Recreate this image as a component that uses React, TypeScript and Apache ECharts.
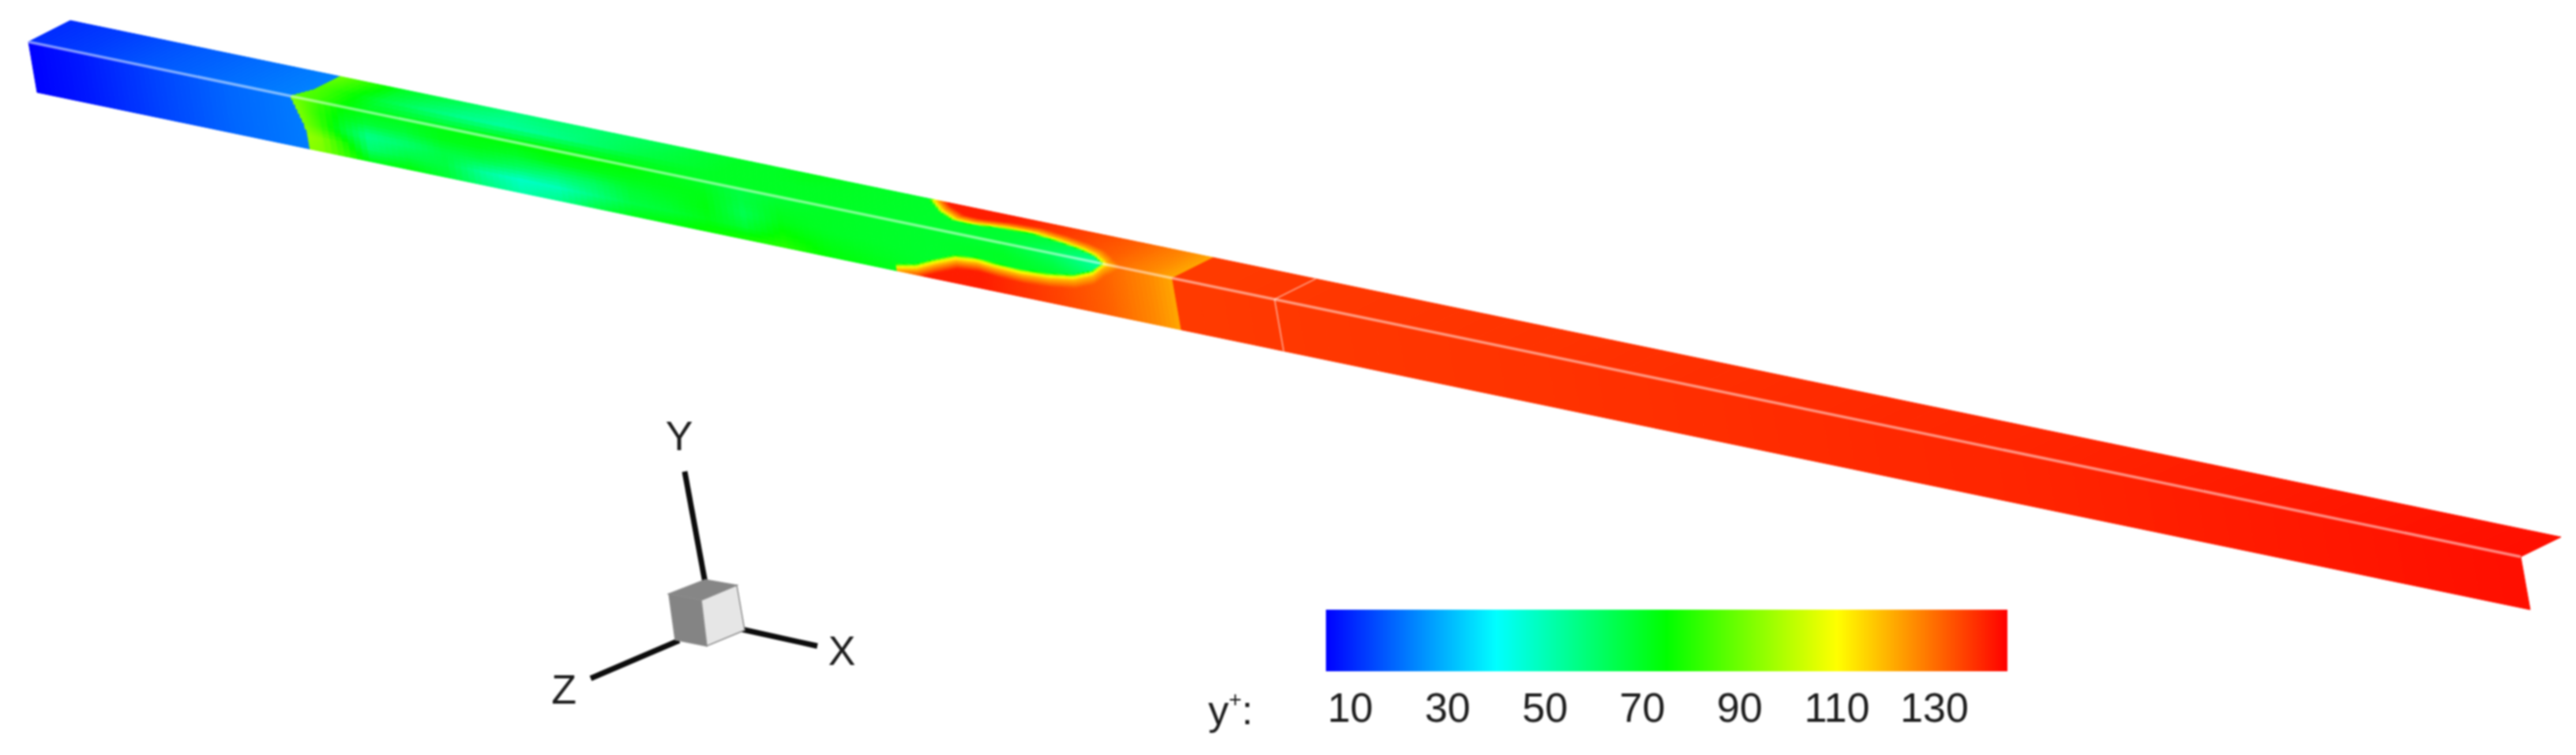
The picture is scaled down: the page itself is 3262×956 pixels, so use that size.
import React, { useEffect, useRef } from "react";
import * as echarts from "echarts";

// Colour scale of the contour plot (y+ level, colour)
const scaleLevels = [5, 40, 75, 110, 145];
const scaleColors = ["#0000ff", "#00ffff", "#00ff00", "#ffff00", "#ff0000"];
const scaleTicks = [10, 30, 50, 70, 90, 110, 130];

// y+. Positions along the duct (0..1) and across a face (0..1).
const sideRows = [0, 0.25, 0.5, 0.75, 1];
const topRows = [0, 0.5, 1];
const greenStations = [0.105, 0.115, 0.125, 0.135, 0.15, 0.165, 0.18, 0.195, 0.21, 0.225, 0.24, 0.255, 0.27, 0.285, 0.3, 0.32, 0.36, 0.39, 0.41, 0.43];
const greenSide = [
  [92, 95, 96, 97, 95], [84, 82, 84, 93, 92], [76, 72, 68, 78, 82], [73, 68, 56, 60, 72], [72, 68, 60, 66, 74],
  [73, 72, 66, 66, 68], [74, 72, 66, 54, 58], [75, 70, 62, 48, 52], [76, 72, 60, 50, 56], [76, 72, 62, 58, 66],
  [75, 72, 68, 66, 72], [72, 72, 70, 68, 74], [70, 72, 73, 72, 76], [66, 66, 64, 68, 78], [68, 70, 72, 76, 80],
  [70, 70, 70, 72, 74], [69, 69, 69, 69, 70], [68, 70, 70, 70, 70], [62, 66, 70, 70, 70], [52, 58, 66, 70, 70],
];
const greenTop = [
  [88, 88, 92], [84, 82, 85], [76, 74, 78], [72, 66, 70], [72, 60, 66], [72, 56, 62], [74, 54, 58], [75, 55, 60],
  [76, 58, 60], [75, 62, 62], [74, 66, 64], [72, 68, 68], [70, 70, 70], [70, 70, 70], [70, 70, 72], [70, 70, 70],
  [69, 69, 69], [68, 68, 68], [62, 66, 68], [52, 62, 68],
];

// Blue inlet part
const inletStations = [0, 0.02, 0.05, 0.08, 0.11];
const inletSide = [5, 8, 14, 19, 22];
const inletTop = [11, 13, 17, 20, 23];
// Blue / green interface
const inletFrontSideRows = [0, 0.25, 0.46, 0.71, 1];
const inletFrontSide = [0.1049, 0.1068, 0.1084, 0.1095, 0.1095];
const inletFrontTopRows = [0, 0.4, 1];
const inletFrontTop = [0.1049, 0.1085, 0.1085];

// The green finger: its edge across each face at a station
const fingerSideS = [0.3448, 0.3455, 0.3534, 0.3612, 0.3703, 0.379, 0.3862, 0.3966, 0.4075, 0.418, 0.4262, 0.4312, 0.435, 0.44, 0.445];
const fingerSide = [1.05, 0.9, 0.82, 0.65, 0.478, 0.437, 0.47, 0.49, 0.458, 0.38, 0.22, 0.015, -0.1, -0.3, -0.5];
const fingerTopS = [0.3452, 0.3468, 0.3555, 0.3642, 0.3709, 0.382, 0.3943, 0.4063, 0.4166, 0.4241, 0.4304, 0.4315, 0.435, 0.44, 0.445];
const fingerTop = [1.05, 0.97, 0.66, 0.46, 0.44, 0.53, 0.56, 0.47, 0.36, 0.24, 0.05, 0, -0.1, -0.3, -0.5];
const edgeDistance = [0, 0.03, 0.08];
const edgeLevel = [100, 110, 120];
const edgeEnd = 0.24;

// Red parts
const redStations = [0.346, 0.38, 0.41, 0.43, 0.44, 0.45, 0.459];
const redLevels = [141, 141, 136, 132, 129, 126, 122];
const outletStations = [0.459, 0.6, 0.8, 1];
const outletLevels = [137, 138, 140, 143];
const stepStation = 0.459;
const jointStation = 0.5;

// Oblique view of the duct, in page units
const ridgeA = [36, 53], ridgeB = [3192, 705];
const lowA = [47, 117], lowB = [3204, 772];
const highA = [89, 26], highB = [3243, 680];

const lerp1 = (xs: number[], ys: number[], x: number) => {
  if (x <= xs[0]) return ys[0];
  for (let i = 1; i < xs.length; i++) {
    if (x <= xs[i]) return ys[i - 1] + ((ys[i] - ys[i - 1]) * (x - xs[i - 1])) / (xs[i] - xs[i - 1]);
  }
  return ys[ys.length - 1];
};

const hexRgb = (h: string) => [1, 3, 5].map((i) => parseInt(h.slice(i, i + 2), 16));
const scaleRgb = scaleColors.map(hexRgb);
const colorOf = (v: number) => {
  const c = [0, 1, 2].map((k) => Math.round(lerp1(scaleLevels, scaleRgb.map((r) => r[k]), v)));
  return `rgb(${c[0]},${c[1]},${c[2]})`;
};

const tableAt = (stations: number[], rows: number[], table: number[][], s: number, a: number) => {
  const atRows = table.map((col) => lerp1(rows, col, a));
  return lerp1(stations, atRows, s);
};

const fieldAt = (face: number, s: number, a: number) => {
  const inletEdge = face === 0 ? lerp1(inletFrontSideRows, inletFrontSide, a) : lerp1(inletFrontTopRows, inletFrontTop, a);
  if (s < inletEdge) return lerp1(inletStations, face === 0 ? inletSide : inletTop, s);
  if (s >= stepStation) return lerp1(outletStations, outletLevels, s);
  const green = face === 0 ? tableAt(greenStations, sideRows, greenSide, s, a) : tableAt(greenStations, topRows, greenTop, s, a);
  const fs = face === 0 ? fingerSideS : fingerTopS;
  const ff = face === 0 ? fingerSide : fingerTop;
  const front = s < fs[0] ? Infinity : s > fs[fs.length - 1] ? -Infinity : lerp1(fs, ff, s);
  const d = a - front;
  const width = 0.035;
  if (d < -width) return green;
  if (d < 0) return green + ((edgeLevel[0] - green) * (d + width)) / width;
  const base = lerp1(redStations, redLevels, s);
  return lerp1([...edgeDistance, edgeEnd], [...edgeLevel, base], d);
};

// Shading mesh: [from, to, step along the duct, rows on the side, rows on the top]
const meshBlocks = [
  [0, 0.1, 0.002, 1, 1],
  [0.1, 0.116, 0.0006, 24, 14],
  [0.116, 0.344, 0.0025, 14, 7],
  [0.344, 0.44, 0.001, 28, 18],
  [0.44, 0.459, 0.002, 4, 3],
  [0.459, 1, 0.01, 1, 1],
];

const buildCells = () => {
  const cells: number[][] = [];
  meshBlocks.forEach(([from, to, step, rowsSide, rowsTop]) => {
    const n = Math.round((to - from) / step);
    for (let i = 0; i < n; i++) {
      const s0 = from + ((to - from) * i) / n;
      const s1 = from + ((to - from) * (i + 1)) / n;
      [rowsSide, rowsTop].forEach((rows, face) => {
        for (let r = 0; r < rows; r++) {
          const a0 = r / rows, a1 = (r + 1) / rows;
          cells.push([face, s0, s1, a0, a1, fieldAt(face, (s0 + s1) / 2, (a0 + a1) / 2)]);
        }
      });
    }
  });
  return cells;
};

const project = (face: number, s: number, a: number) => {
  const far = face === 0 ? [lowA, lowB] : [highA, highB];
  const rx = ridgeA[0] + s * (ridgeB[0] - ridgeA[0]);
  const ry = ridgeA[1] + s * (ridgeB[1] - ridgeA[1]);
  const fx = far[0][0] + s * (far[1][0] - far[0][0]);
  const fy = far[0][1] + s * (far[1][1] - far[0][1]);
  return [rx + a * (fx - rx), ry + a * (fy - ry)];
};

export default function App() {
  const ref = useRef<HTMLDivElement>(null);
  useEffect(() => {
    document.body.style.margin = "0";
    document.documentElement.style.overflow = "hidden";
    const chart = echarts.init(ref.current!, undefined, { renderer: "svg" });
    const font = "Liberation Sans";
    const ink = "#1c1c1c";
    const lineStyle = { stroke: "#0c0c0c", lineWidth: 7 };
    const faceEdge = { stroke: "#8a8a8a", lineWidth: 1.5 };
    chart.setOption({
      animation: false,
      backgroundColor: "#ffffff",
      grid: [
        { left: 0, top: 0, width: 3262, height: 956 },
        { left: 1679, top: 772, width: 863, height: 78 },
      ],
      xAxis: [
        { type: "value", gridIndex: 0, min: 0, max: 3262, show: false },
        {
          type: "value", gridIndex: 1, min: scaleLevels[0], max: scaleLevels[scaleLevels.length - 1],
          axisLine: { show: false }, axisTick: { show: false }, splitLine: { show: false },
          axisLabel: { customValues: scaleTicks, fontFamily: font, fontSize: 52, color: ink, margin: 20, hideOverlap: false },
        },
      ],
      yAxis: [
        { type: "value", gridIndex: 0, min: 0, max: 956, inverse: true, show: false },
        { type: "value", gridIndex: 1, min: 0, max: 1, show: false },
      ],
      series: [
        {
          type: "custom", xAxisIndex: 0, yAxisIndex: 0, clip: false, silent: true, progressive: 0,
          data: buildCells(),
          renderItem: (_: any, api: any) => {
            const face = api.value(0), s0 = api.value(1), s1 = api.value(2), a0 = api.value(3), a1 = api.value(4);
            const fill = colorOf(api.value(5));
            const pts = [[s0, a0], [s1, a0], [s1, a1], [s0, a1]].map(([s, a]) => api.coord(project(face, s, a)));
            return { type: "polygon", shape: { points: pts }, style: { fill, stroke: fill, lineWidth: 1 }, silent: true };
          },
        },
        {
          type: "custom", xAxisIndex: 0, yAxisIndex: 0, clip: false, silent: true,
          // duct edges: [station from, station to, face, across from, across to, width]
          data: [
            [0, 1, 0, 0, 0, 3.5],
            [jointStation, jointStation, 0, 0, 1, 1.8],
            [jointStation, jointStation, 1, 0, 1, 1.8],
          ],
          renderItem: (_: any, api: any) => {
            const f = api.value(2);
            const p = api.coord(project(f, api.value(0), api.value(3)));
            const q = api.coord(project(f, api.value(1), api.value(4)));
            return {
              type: "line", shape: { x1: p[0], y1: p[1], x2: q[0], y2: q[1] },
              style: { stroke: "rgba(255,255,255,0.5)", lineWidth: api.value(5) }, silent: true,
            };
          },
        },
        {
          type: "custom", xAxisIndex: 1, yAxisIndex: 1, clip: false, silent: true,
          data: [[scaleLevels[0], scaleLevels[scaleLevels.length - 1]]],
          renderItem: (_: any, api: any) => {
            const a = api.coord([api.value(0), 1]);
            const b = api.coord([api.value(1), 0]);
            const lo = scaleLevels[0], span = scaleLevels[scaleLevels.length - 1] - lo;
            return {
              type: "rect", shape: { x: a[0], y: a[1], width: b[0] - a[0], height: b[1] - a[1] },
              style: {
                fill: new echarts.graphic.LinearGradient(0, 0, 1, 0,
                  scaleLevels.map((l, i) => ({ offset: (l - lo) / span, color: scaleColors[i] }))),
              },
              silent: true,
            };
          },
        },
      ],
      graphic: [
        { type: "line", shape: { x1: 867, y1: 597, x2: 893, y2: 738 }, style: lineStyle },
        { type: "line", shape: { x1: 940, y1: 797, x2: 1035, y2: 818 }, style: lineStyle },
        { type: "line", shape: { x1: 860, y1: 811, x2: 748, y2: 859 }, style: lineStyle },
        { type: "polygon", shape: { points: [[847, 752], [893, 734], [933, 741], [888, 760]] }, style: { fill: "#868686", ...faceEdge } },
        { type: "polygon", shape: { points: [[847, 752], [888, 760], [895, 818], [855, 810]] }, style: { fill: "#848484", ...faceEdge } },
        { type: "polygon", shape: { points: [[888, 760], [933, 741], [943, 798], [895, 818]] }, style: { fill: "#e6e6e6", ...faceEdge } },
        { type: "text", x: 860, y: 552, style: { text: "Y", fontFamily: font, fontSize: 52, fill: ink, align: "center", verticalAlign: "middle" } },
        { type: "text", x: 1066, y: 824, style: { text: "X", fontFamily: font, fontSize: 52, fill: ink, align: "center", verticalAlign: "middle" } },
        { type: "text", x: 714, y: 873, style: { text: "Z", fontFamily: font, fontSize: 52, fill: ink, align: "center", verticalAlign: "middle" } },
        {
          type: "text", x: 1530, y: 871,
          style: {
            text: "{m|y}{s|+}{m|:}", fontFamily: font, fill: ink,
            rich: {
              m: { fontFamily: font, fontSize: 52, fill: ink, lineHeight: 56 },
              s: { fontFamily: font, fontSize: 28, fill: ink, verticalAlign: "top", lineHeight: 30 },
            },
          },
        },
      ],
    });
    return () => chart.dispose();
  }, []);
  return (
    <div
      ref={ref}
      style={{ position: "fixed", left: 0, top: 0, width: 3262, height: 956, filter: "blur(1.3px)" }}
    />
  );
}
